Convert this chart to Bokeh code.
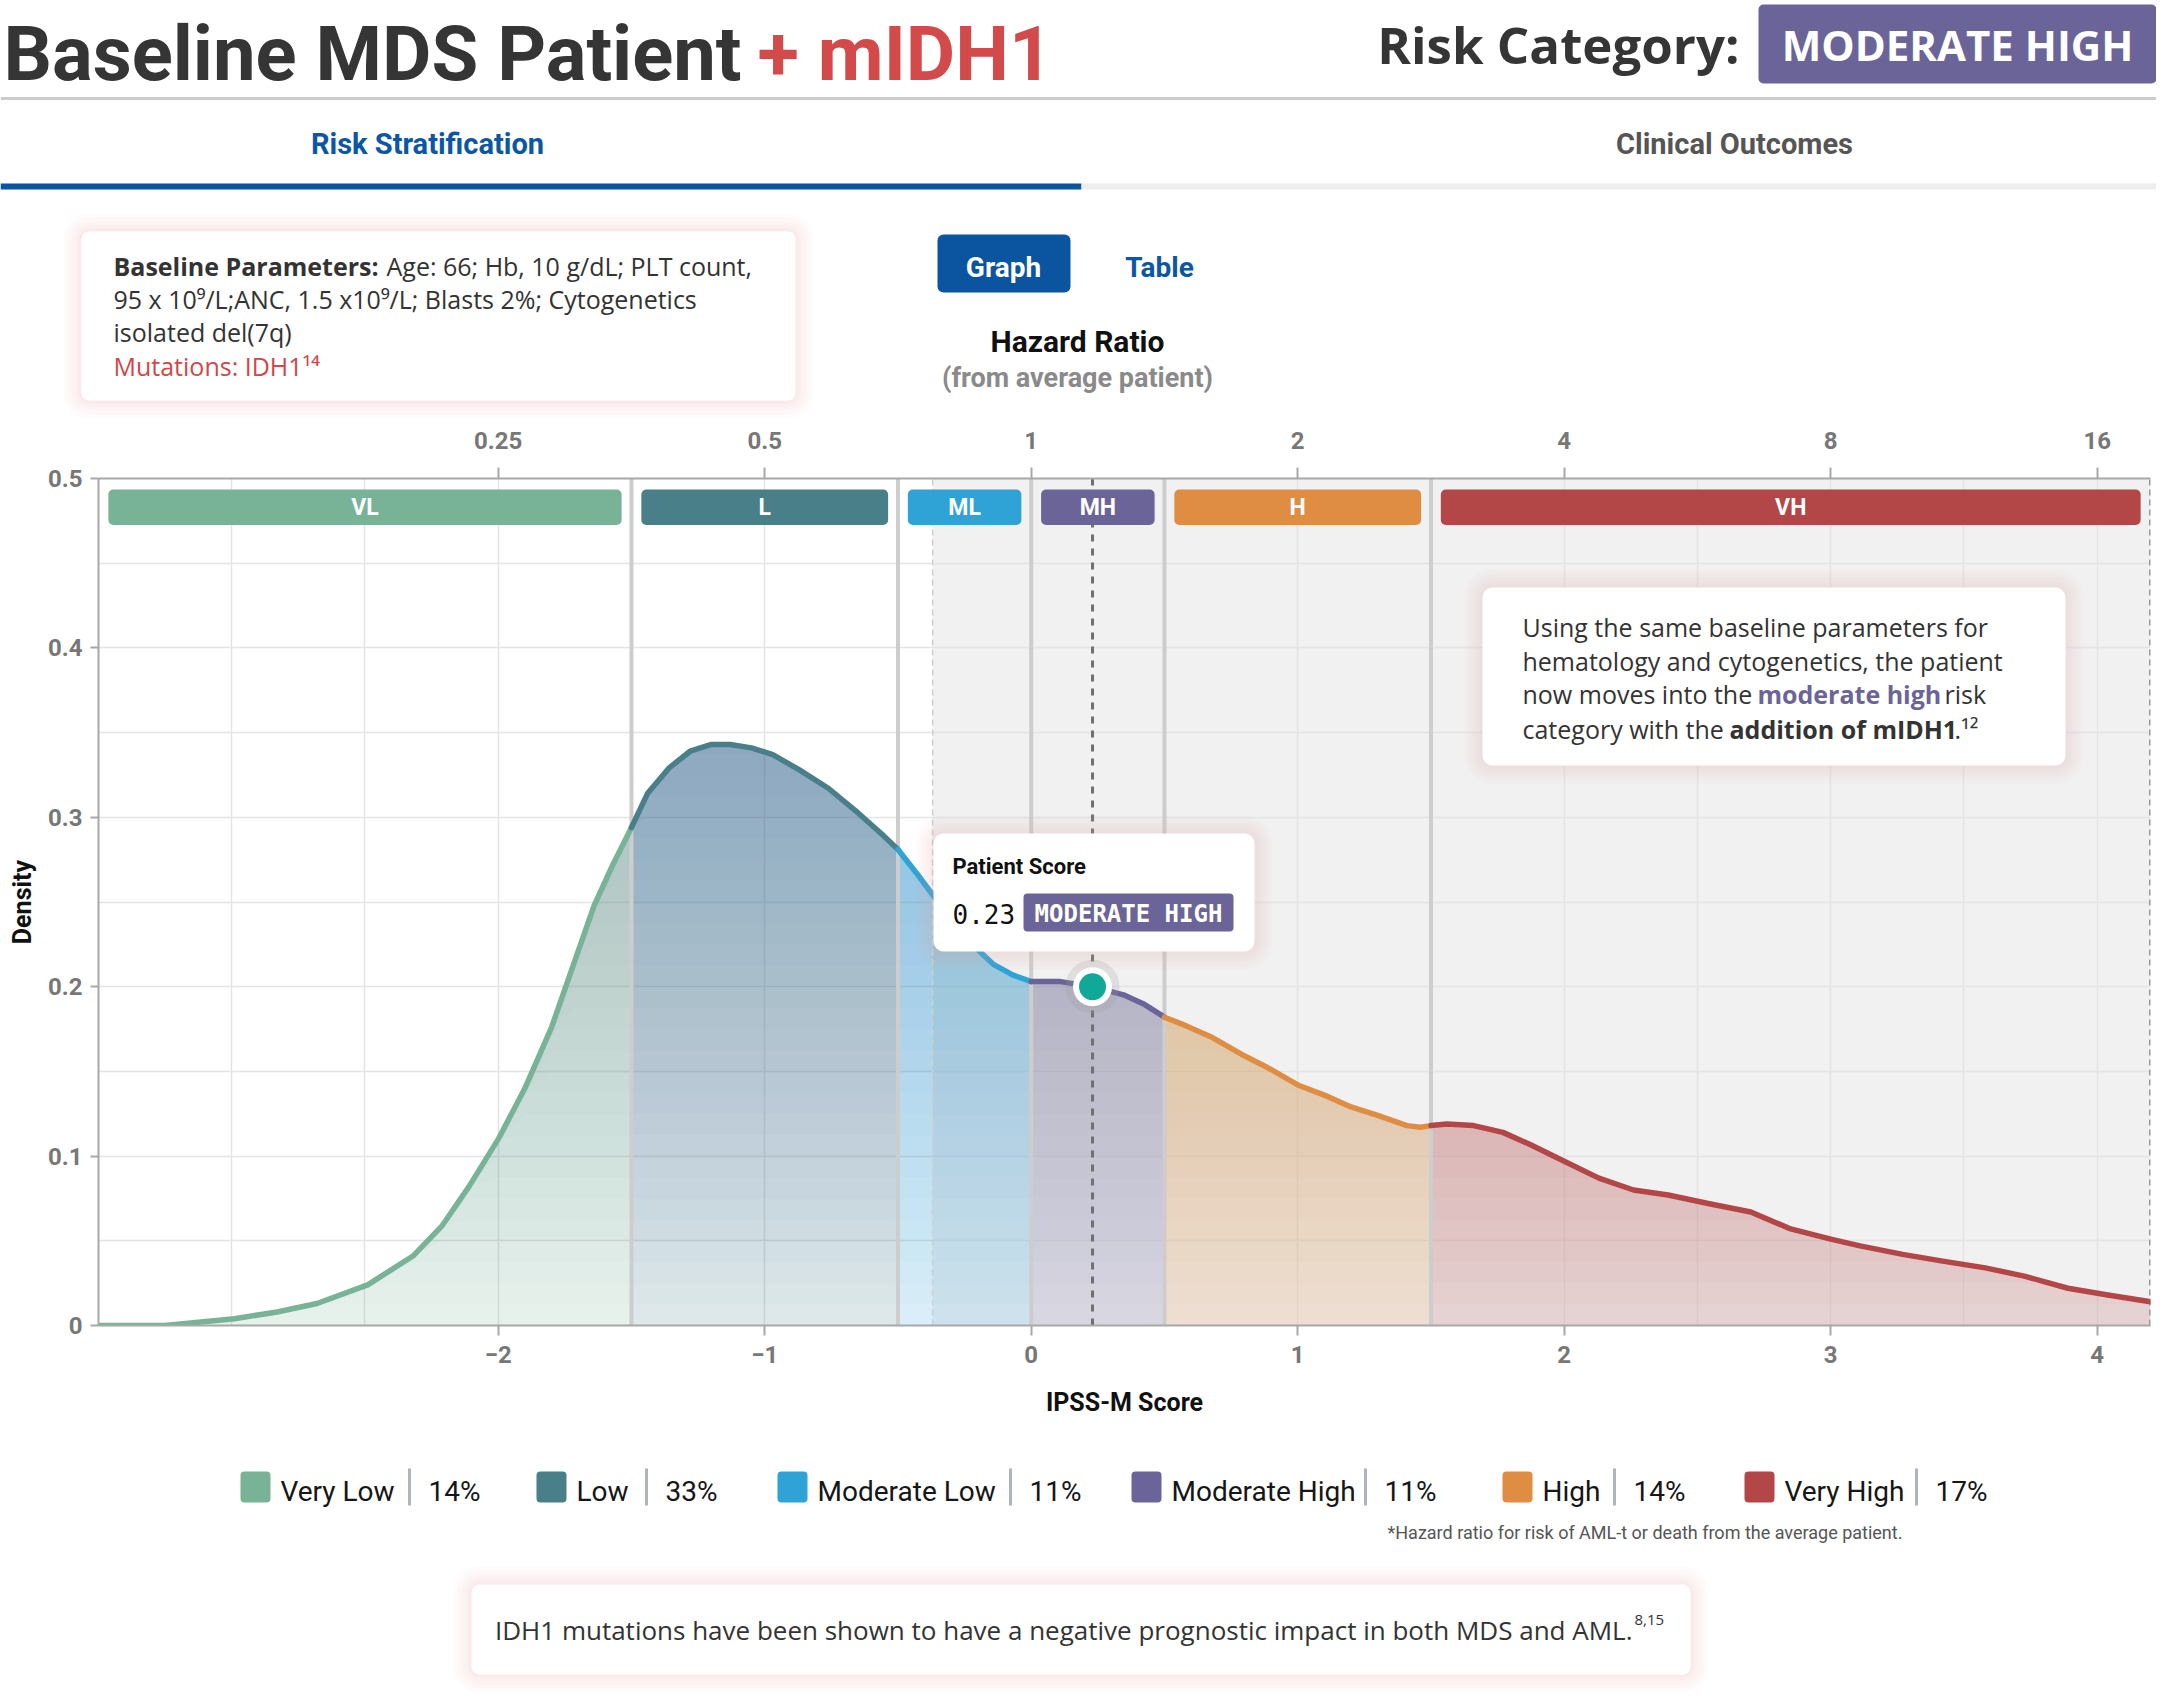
import numpy as np
from bokeh.plotting import figure
from bokeh.layouts import column
from bokeh.models import Range1d, LinearAxis, FixedTicker
from bokeh.core.properties import value
from bokeh.embed import file_html
from bokeh.resources import INLINE

# ---------------- data ----------------
ipss_score = [-3.5, -3.25, -2.99, -2.83, -2.68, -2.49, -2.32, -2.21, -2.11, -2.0,
              -1.9, -1.8, -1.72, -1.64, -1.57, -1.5, -1.44, -1.36, -1.28, -1.2,
              -1.13, -1.05, -0.97, -0.87, -0.76, -0.66, -0.56, -0.5, -0.43, -0.35,
              -0.25, -0.14, -0.07, 0.0, 0.11, 0.23, 0.35, 0.42, 0.5, 0.58,
              0.68, 0.79, 0.89, 1.0, 1.1, 1.2, 1.3, 1.41, 1.46, 1.5,
              1.56, 1.66, 1.77, 1.87, 2.0, 2.13, 2.26, 2.39, 2.54, 2.7,
              2.85, 3.0, 3.11, 3.27, 3.42, 3.58, 3.73, 3.89, 4.04, 4.2]
density = [0.0, 0.0, 0.004, 0.008, 0.013, 0.024, 0.041, 0.059, 0.082, 0.110,
           0.140, 0.176, 0.212, 0.248, 0.272, 0.294, 0.314, 0.329, 0.339, 0.343,
           0.343, 0.341, 0.337, 0.328, 0.317, 0.304, 0.290, 0.281, 0.267, 0.250,
           0.229, 0.213, 0.207, 0.203, 0.203, 0.200, 0.195, 0.190, 0.182, 0.177,
           0.170, 0.160, 0.152, 0.142, 0.136, 0.129, 0.124, 0.118, 0.117, 0.118,
           0.119, 0.118, 0.114, 0.107, 0.097, 0.087, 0.080, 0.077, 0.072, 0.067,
           0.057, 0.051, 0.047, 0.042, 0.038, 0.034, 0.029, 0.022, 0.018, 0.014]

cat_codes = ["VL", "L", "ML", "MH", "H", "VH"]
cat_names = ["Very Low", "Low", "Moderate Low", "Moderate High", "High", "Very High"]
cat_share = ["14%", "33%", "11%", "11%", "14%", "17%"]
cat_colors = ["#78b297", "#497f88", "#2fa2d6", "#6b6499", "#e08d44", "#b34646"]
cut_points = [-1.5, -0.5, 0.0, 0.5, 1.5]
score_min, score_max = -3.5, 4.2

score_ticks = [-2, -1, 0, 1, 2, 3, 4]
hr_ticks = [0.25, 0.5, 1, 2, 4, 8, 16]
hr_labels = ["0.25", "0.5", "1", "2", "4", "8", "16"]
density_ticks = [0, 0.1, 0.2, 0.3, 0.4, 0.5]
density_labels = ["0", "0.1", "0.2", "0.3", "0.4", "0.5"]

patient_score = 0.23
patient_density = 0.200
patient_category = "MODERATE HIGH"
baseline_score = -0.37

# ---------------- helpers ----------------
W = 2156
PURPLE = "#6a6499"
BLUE = "#0b55a0"
DARK = "#333333"
TXT_SHIFT = 0.3          # alphabetic-baseline correction (em)
PAGE = (lambda v: v, lambda v: -v)


def add_text(p, cv, x, y, s, size, color=DARK, font="Open Sans", style="normal",
             align="left"):
    p.text(x=[cv[0](x)], y=[cv[1](y - TXT_SHIFT * size)], text=[s], text_font=value(font),
           text_font_size=value(f"{size}px"), text_font_style=style,
           text_color=color, text_align=align, text_baseline="alphabetic")


def add_box(p, cv, l, r, t, b, radius=10, glow=True, color="white"):
    cx, cy = cv
    if glow:
        for e in (18, 14, 10, 6, 3):
            p.quad(left=[cx(l - e)], right=[cx(r + e)], top=[cy(t - e)],
                   bottom=[cy(b + e)], fill_color="#e59a9a", fill_alpha=0.045,
                   line_color=None, border_radius=radius + e)
    p.quad(left=[cx(l)], right=[cx(r)], top=[cy(t)], bottom=[cy(b)],
           fill_color=color, line_color=None, border_radius=radius)


def page_fig(y0, y1):
    f = figure(width=W, height=y1 - y0, x_range=Range1d(0, W),
               y_range=Range1d(-y1, -y0), x_axis_type=None, y_axis_type=None,
               min_border=0, output_backend="svg", toolbar_location=None,
               outline_line_color=None, background_fill_color="white",
               border_fill_color="white", frame_align=False)
    return f


# ---------------- header ----------------
hdr = page_fig(0, 420)
add_text(hdr, PAGE, 3, 76, "Baseline MDS Patient", 76, color="#353535", font="Roboto", style="bold")
add_text(hdr, PAGE, 757, 76, "+ mIDH1", 76, color="#d24a4a", font="Roboto", style="bold")
add_text(hdr, PAGE, 1739, 59, "Risk Category:", 51, color="#353535", style="bold", align="right")
hdr.quad(left=[1758], right=[2156], top=[-4], bottom=[-83], fill_color=PURPLE,
         line_color=None, border_radius=5)
add_text(hdr, PAGE, 1957, 57, patient_category, 42, color="white", style="bold", align="center")
hdr.segment(x0=[0], y0=[-98], x1=[W], y1=[-98], line_color="#cccccc", line_width=3)

add_text(hdr, PAGE, 427, 152, "Risk Stratification", 29, color="#0b57a4", font="Roboto",
         style="bold", align="center")
add_text(hdr, PAGE, 1734, 152, "Clinical Outcomes", 29, color="#555555", font="Roboto",
         style="bold", align="center")
hdr.quad(left=[0], right=[1081], top=[-183], bottom=[-189], fill_color=BLUE, line_color=None)
hdr.quad(left=[1081], right=[W], top=[-183], bottom=[-189], fill_color="#eeeeee", line_color=None)

# baseline parameters box
add_box(hdr, PAGE, 81, 795, 231, 400, radius=8)
add_text(hdr, PAGE, 113, 273, "Baseline Parameters:", 25, style="bold")
add_text(hdr, PAGE, 386, 273, "Age: 66; Hb, 10 g/dL; PLT count,", 25)
add_text(hdr, PAGE, 113, 306, "95 x 10\u2079/L;ANC, 1.5 x10\u2079/L; Blasts 2%; Cytogenetics", 25)
add_text(hdr, PAGE, 113, 339, "isolated del(7q)", 25)
add_text(hdr, PAGE, 113, 373, "Mutations: IDH1\u00b9\u2074", 25, color="#d04848")

# graph / table toggle
hdr.quad(left=[937], right=[1070], top=[-234], bottom=[-292], fill_color=BLUE,
         line_color=None, border_radius=6)
add_text(hdr, PAGE, 1003, 275, "Graph", 28, color="white", font="Roboto", style="bold", align="center")
add_text(hdr, PAGE, 1159, 275, "Table", 28, color="#0b57a4", font="Roboto", style="bold", align="center")

add_text(hdr, PAGE, 1077, 350, "Hazard Ratio", 30, color="#111111", font="Roboto", style="bold",
         align="center")
add_text(hdr, PAGE, 1077, 386, "(from average patient)", 27, color="#8a8a8a", font="Roboto",
         style="bold", align="center")

# ---------------- main chart ----------------
FL, FR, FT, FB = 98, 2150, 478, 1325
main = figure(x_range=Range1d(score_min, score_max), y_range=Range1d(0, 0.5),
              frame_width=FR - FL, frame_height=FB - FT,
              min_border_left=FL, min_border_right=W - FR,
              min_border_top=FT - 420, min_border_bottom=1430 - FB,
              output_backend="svg", toolbar_location=None,
              outline_line_color=None, background_fill_color="white",
              border_fill_color="white", frame_align=False)


def MX(px):
    return score_min + (px - FL) * (score_max - score_min) / (FR - FL)


def MY(py):
    return 0.5 - (py - FT) * 0.5 / (FB - FT)


MAIN = (MX, MY)

# grids
main.xgrid.ticker = FixedTicker(ticks=[v / 2 for v in range(-6, 9)])
main.ygrid.ticker = FixedTicker(ticks=[k * 0.05 for k in range(1, 10)])
main.grid.grid_line_color = "#e4e4e4"
main.grid.grid_line_width = 1.5

# shaded region from the baseline (no-mutation) score
main.quad(left=[baseline_score], right=[score_max], bottom=[0], top=[0.5],
          fill_color="#f1f1f1", line_color=None, level="image")

xs = np.asarray(ipss_score, dtype=float)
ds = np.asarray(density, dtype=float)
bounds = [score_min] + cut_points + [score_max]
levels = np.arange(0.0125, 0.35, 0.0125)
segments = []
for i, col in enumerate(cat_colors):
    m = (xs >= bounds[i]) & (xs <= bounds[i + 1])
    sx, sy = xs[m], ds[m]
    segments.append((sx, sy, col))
    main.varea(x=sx, y1=np.zeros_like(sy), y2=sy, fill_color=col, fill_alpha=0.18)
    for lv in levels:
        if sy.max() > lv:
            main.varea(x=sx, y1=np.minimum(sy, lv), y2=sy, fill_color=col, fill_alpha=0.019)

# category boundaries
main.segment(x0=cut_points, y0=[0] * len(cut_points), x1=cut_points, y1=[0.5] * len(cut_points),
             line_color="#cdcdcd", line_width=4)
main.segment(x0=[baseline_score], y0=[0], x1=[baseline_score], y1=[0.5],
             line_color="#cfcfcf", line_width=1.5, line_dash="6 4")
main.segment(x0=[score_max], y0=[0], x1=[score_max], y1=[0.5],
             line_color="#9a9a9a", line_width=3, line_dash="6 4")

# patient score line
main.segment(x0=[patient_score], y0=[0], x1=[patient_score], y1=[0.5],
             line_color="#707070", line_width=3, line_dash="7 7")

# category label bars
gap = 0.037
bar_l = [bounds[i] + gap for i in range(6)]
bar_r = [bounds[i + 1] - gap for i in range(6)]
main.quad(left=bar_l, right=bar_r, bottom=[0.4725] * 6, top=[0.4935] * 6,
          fill_color=cat_colors, line_color=None, border_radius=5)
main.text(x=[(a + b) / 2 for a, b in zip(bar_l, bar_r)], y=[0.483] * 6, text=cat_codes,
          text_font=value("Roboto"), text_font_size=value("23px"), text_font_style="bold",
          text_color="white", text_align="center", text_baseline="middle")

# density curve
for sx, sy, col in segments:
    main.line(x=sx, y=sy, line_color=col, line_width=5.5, line_cap="round", line_join="round")

# patient point
main.scatter(x=[patient_score], y=[patient_density], size=54, fill_color="#9c9c9c",
             fill_alpha=0.22, line_color=None)
main.scatter(x=[patient_score], y=[patient_density], size=39, fill_color="white", line_color=None)
main.scatter(x=[patient_score], y=[patient_density], size=27, fill_color="#10a898", line_color=None)

# patient tooltip
add_box(main, MAIN, 933, 1254, 833, 951, radius=10)
add_text(main, MAIN, 952, 873, "Patient Score", 22, color="#111111", font="Roboto", style="bold")
add_text(main, MAIN, 952, 921, f"{patient_score:.2f}", 26, color="#111111", font="DejaVu Sans Mono")
main.quad(left=[MX(1023)], right=[MX(1233)], top=[MY(893)], bottom=[MY(931)],
          fill_color=PURPLE, line_color=None, border_radius=4)
add_text(main, MAIN, 1128, 921, patient_category, 24, color="white",
         font="DejaVu Sans Mono", style="bold", align="center")

# annotation box
add_box(main, MAIN, 1482, 2065, 587, 765, radius=10)
add_text(main, MAIN, 1522, 634, "Using the same baseline parameters for", 25)
add_text(main, MAIN, 1522, 668, "hematology and cytogenetics, the patient", 25)
add_text(main, MAIN, 1522, 701, "now moves into the", 25)
add_text(main, MAIN, 1757, 701, "moderate high", 25, color=PURPLE, style="bold")
add_text(main, MAIN, 1944, 701, "risk", 25)
add_text(main, MAIN, 1522, 736, "category with the", 25)
add_text(main, MAIN, 1729, 736, "addition of mIDH1", 25, style="bold")
add_text(main, MAIN, 1954, 736, ".\u00b9\u00b2", 25)

# axes
bx = main.xaxis[0]
bx.ticker = FixedTicker(ticks=score_ticks)
bx.axis_label = "IPSS-M Score"
ly = main.yaxis[0]
ly.ticker = FixedTicker(ticks=density_ticks)
ly.major_label_overrides = {t: s for t, s in zip(density_ticks, density_labels)}
ly.axis_label = "Density"

top = LinearAxis(ticker=FixedTicker(ticks=[float(np.log2(h)) for h in hr_ticks]),
                 major_label_overrides={float(np.log2(h)): s for h, s in zip(hr_ticks, hr_labels)})
main.add_layout(top, "above")

for ax in (bx, ly, top):
    ax.axis_line_color = "#a8a8a8"
    ax.axis_line_width = 2
    ax.major_tick_line_color = "#a8a8a8"
    ax.major_tick_line_width = 2
    ax.minor_tick_line_color = None
    ax.major_tick_in = 0
    ax.major_label_text_font = "Roboto"
    ax.major_label_text_font_size = "24px"
    ax.major_label_text_font_style = "bold"
    ax.major_label_text_color = "#777777"
    ax.axis_label_text_font = "Roboto"
    ax.axis_label_text_font_size = "25px"
    ax.axis_label_text_font_style = "bold"
    ax.axis_label_text_color = "#111111"
bx.major_tick_out = 10
bx.major_label_standoff = 10
bx.axis_label_standoff = 22
ly.major_tick_out = 8
ly.major_label_standoff = 8
ly.axis_label_standoff = 8
top.major_tick_out = 11
top.major_label_standoff = 19

# ---------------- footer ----------------
ftr = page_fig(1430, 1700)
legend_sq_x = [240, 536, 777, 1131, 1502, 1744]
legend_bar_x = [409, 646, 1010, 1365, 1614, 1916]
ftr.quad(left=legend_sq_x, right=[x + 30 for x in legend_sq_x], top=[-1471] * 6,
         bottom=[-1502] * 6, fill_color=cat_colors, line_color=None, border_radius=4)
leg_y = -(1499 - TXT_SHIFT * 28)
ftr.text(x=[x + 40 for x in legend_sq_x], y=[leg_y] * 6, text=cat_names,
         text_font=value("Roboto"), text_font_size=value("28px"), text_color="#161616",
         text_align="left", text_baseline="alphabetic")
ftr.segment(x0=legend_bar_x, y0=[-1468] * 6, x1=legend_bar_x, y1=[-1505] * 6,
            line_color="#aeb3bd", line_width=3)
ftr.text(x=[x + 19 for x in legend_bar_x], y=[leg_y] * 6, text=cat_share,
         text_font=value("Roboto"), text_font_size=value("28px"), text_color="#161616",
         text_align="left", text_baseline="alphabetic")
add_text(ftr, PAGE, 1387, 1537, "*Hazard ratio for risk of AML-t or death from the average patient.",
         18, color="#555555", font="Roboto")

add_box(ftr, PAGE, 471, 1690, 1584, 1674, radius=8)
add_text(ftr, PAGE, 1632, 1637,
         "IDH1 mutations have been shown to have a negative prognostic impact in both MDS and AML.",
         26, align="right")
add_text(ftr, PAGE, 1634, 1624, "8,15", 15)

layout = column(hdr, main, ftr)
open("out.html", "w").write(file_html(layout, INLINE))
